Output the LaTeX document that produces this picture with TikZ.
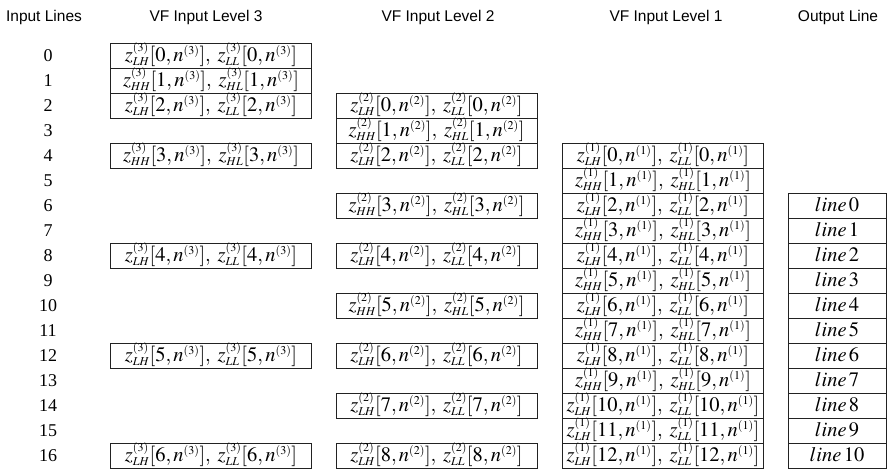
\documentclass[tikz,border=0pt]{standalone}
\usepackage{mathptmx}
\usepackage{fontspec}
\setmainfont{Liberation Serif}
\newfontfamily\headfont{Liberation Sans}
\usepackage{tikz}
\usepackage{xcolor}
\usetikzlibrary{positioning}
\DeclareMathSizes{20.5}{20.5}{12}{9}
\definecolor{boxline}{HTML}{222222}
\newcommand{\zpair}[4]{$z^{(#1)}_{#2}[#4,n^{(#1)}],\;z^{(#1)}_{#3}[#4,n^{(#1)}]$}
\tikzset{
    header/.style={font=\headfont\fontsize{15.5}{15.5}\selectfont},
    linenum/.style={font=\fontsize{18}{18}\selectfont},
    vfbox/.style={draw=boxline, line width=0.8pt, minimum width=201pt, minimum height=25pt, text height=15.5pt, text depth=3.5pt, inner sep=0pt, font=\fontsize{20.5}{20.5}\selectfont},
    outbox/.style={vfbox, minimum width=98pt},
}

\begin{document}
\begin{tikzpicture}[x=1pt, y=-1pt]

\useasboundingbox (0,0) rectangle (888,470);

% ============================================================
% HEADERS
% ============================================================
\node[header] (title1) at (44,17) {Input Lines};
\node[header] (title2) at (206,17) {VF Input Level 3};
\node[header] (title3) at (438,17) {VF Input Level 2};
\node[header] (title4) at (666,17) {VF Input Level 1};
\node[header] (title5) at (838,17) {Output Line};

% ============================================================
% INPUT LINES
% ============================================================
\foreach \r in {0,...,16}
    \node[linenum] (in\r) at (48,{55.5+25*\r}) {\r};

% ============================================================
% VF INPUT LEVEL 3
% ============================================================
\foreach \r/\p/\q/\k in {0/LH/LL/0, 1/HH/HL/1, 2/LH/LL/2, 4/HH/HL/3, 8/LH/LL/4, 12/LH/LL/5, 16/LH/LL/6}
    \node[vfbox] (a\r) at (211,{55.5+25*\r}) {\zpair{3}{\p}{\q}{\k}};

% ============================================================
% VF INPUT LEVEL 2
% ============================================================
\foreach \r/\p/\q/\k in {2/LH/LL/0, 3/HH/HL/1, 4/LH/LL/2, 6/HH/HL/3, 8/LH/LL/4, 10/HH/HL/5, 12/LH/LL/6, 14/LH/LL/7, 16/LH/LL/8}
    \node[vfbox] (b\r) at (436.5,{55.5+25*\r}) {\zpair{2}{\p}{\q}{\k}};

% ============================================================
% VF INPUT LEVEL 1
% ============================================================
\foreach \r/\p/\q/\k in {4/LH/LL/0, 5/HH/HL/1, 6/LH/LL/2, 7/HH/HL/3, 8/LH/LL/4, 9/HH/HL/5, 10/LH/LL/6, 11/HH/HL/7, 12/LH/LL/8, 13/HH/HL/9, 14/LH/LL/10, 15/LH/LL/11, 16/LH/LL/12}
    \node[vfbox] (c\r) at (663,{55.5+25*\r}) {\zpair{1}{\p}{\q}{\k}};

% ============================================================
% OUTPUT LINE
% ============================================================
\foreach \r [evaluate=\r as \k using int(\r-6)] in {6,...,16}
    \node[outbox] (out\r) at (837,{55.5+25*\r}) {$line\,\k$};

\end{tikzpicture}
\end{document}
